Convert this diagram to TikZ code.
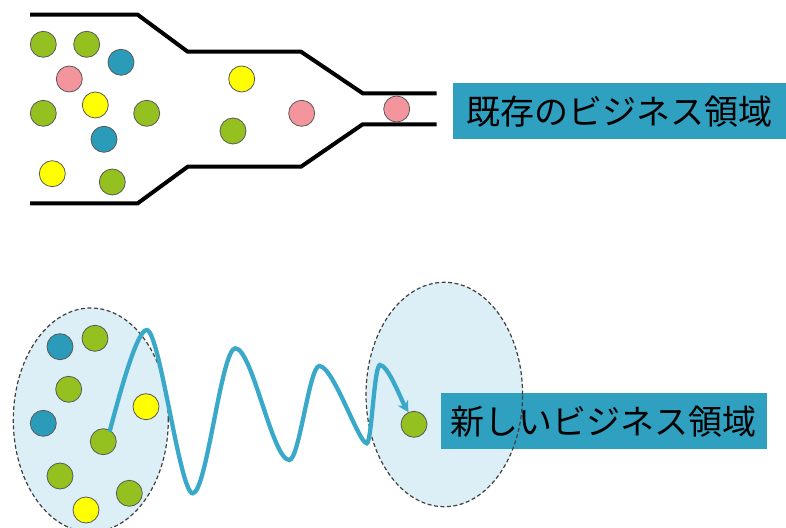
\documentclass[tikz,border=0pt]{standalone}
\usepackage{fontspec}
\usetikzlibrary{arrows.meta}
\newfontfamily\jpfont{Noto Sans CJK JP}

\definecolor{ballgreen}{HTML}{94C11F}
\definecolor{ballblue}{HTML}{2A9CBA}
\definecolor{ballpink}{HTML}{F4949C}
\definecolor{ballyellow}{HTML}{FFFF00}
\definecolor{boxblue}{HTML}{2FA0C0}
\definecolor{wavecol}{HTML}{3AA8C8}
\definecolor{fieldfill}{HTML}{DCEEF6}

\begin{document}
\begin{tikzpicture}[x=1pt, y=1pt,
  ball/.style={circle, draw=black!65, line width=0.8pt, minimum size=26pt, inner sep=0pt},
  pipe/.style={line width=4pt},
  fieldline/.style={draw=black!75, dash pattern=on 4pt off 2.5pt, line width=1.2pt},
  labelbox/.style={fill=boxblue, minimum height=56pt, inner sep=0pt, text=black,
    font=\jpfont\fontsize{34}{40}\selectfont},
  wave/.style={wavecol, line width=4.3pt, line cap=round,
    -{Stealth[length=11pt, width=12pt]}}]

\useasboundingbox (0,0) rectangle (786,527);

% Funnel walls
\draw[pipe] (30,512.3) -- (137.7,512.3) -- (187.7,475.3) -- (301,475.3)
  -- (362.7,433.7) -- (436.7,433.7);
\draw[pipe] (30,323.7) -- (137.7,323.7) -- (187.7,360.3) -- (301,360.3)
  -- (362.7,402.7) -- (436.7,402.7);

% Balls in the funnel
\node[ball, fill=ballgreen]  (t1)  at (43.3,482.7) {};
\node[ball, fill=ballgreen]  (t2)  at (86.7,482.7) {};
\node[ball, fill=ballblue]   (t3)  at (121,464.7) {};
\node[ball, fill=ballpink]   (t4)  at (69.3,448) {};
\node[ball, fill=ballyellow] (t5)  at (95.3,422) {};
\node[ball, fill=ballgreen]  (t6)  at (43.3,413.7) {};
\node[ball, fill=ballgreen]  (t7)  at (146.7,413.7) {};
\node[ball, fill=ballblue]   (t8)  at (104,387.7) {};
\node[ball, fill=ballyellow] (t9)  at (52.3,353.3) {};
\node[ball, fill=ballgreen]  (t10) at (112.3,345) {};
\node[ball, fill=ballyellow] (t11) at (241.7,448) {};
\node[ball, fill=ballgreen]  (t12) at (233,396) {};
\node[ball, fill=ballpink]   (t13) at (301.7,413.7) {};
\node[ball, fill=ballpink]   (t14) at (396.7,418) {};

% Existing business label
\node[labelbox, minimum width=333.3pt] (oldfield) at (619.3,415.8) {既存のビジネス領域};

% Fields (fill first)
\fill[fieldfill] (90.8,107) ellipse (77.5 and 112);
\fill[fieldfill] (444.3,132.5) ellipse (78.3 and 112.2);

% New business label
\node[labelbox, minimum width=326pt] (newfield) at (603.7,105.7) {新しいビジネス領域};

% Field borders
\draw[fieldline] (90.8,107) ellipse (77.5 and 112);
\draw[fieldline] (444.3,132.5) ellipse (78.3 and 112.2);

% Balls in the fields
\node[ball, fill=ballblue]   (b1) at (60,180.3) {};
\node[ball, fill=ballgreen]  (b2) at (95,188.7) {};
\node[ball, fill=ballgreen]  (b3) at (68.7,137.7) {};
\node[ball, fill=ballyellow] (b4) at (146,120.3) {};
\node[ball, fill=ballblue]   (b5) at (43.3,103.7) {};
\node[ball, fill=ballgreen]  (b6) at (103.3,85.3) {};
\node[ball, fill=ballgreen]  (b7) at (60,51) {};
\node[ball, fill=ballgreen]  (b8) at (129.3,33.7) {};
\node[ball, fill=ballyellow] (b9) at (86,17) {};
\node[ball, fill=ballgreen]  (nb) at (414,102.7) {};

% Wandering path to the new field
\draw[wave] (b6.60)
  to[out=75, in=180, out distance=35pt, in distance=10pt] (146.7,197)
  to[out=0, in=180, out distance=13pt, in distance=13pt] (192.7,33.7)
  to[out=0, in=180, out distance=14pt, in distance=14pt] (235.3,178.7)
  to[out=0, in=180, out distance=17pt, in distance=17pt] (289.3,67)
  to[out=0, in=180, out distance=10pt, in distance=10pt] (319.3,161)
  to[out=0, in=180, out distance=14pt, in distance=8pt] (366.7,83.7)
  to[out=0, in=180, out distance=5pt, in distance=6pt] (380,162)
  to[out=0, in=120, out distance=8pt, in distance=14pt] (nb.115);

\end{tikzpicture}
\end{document}
